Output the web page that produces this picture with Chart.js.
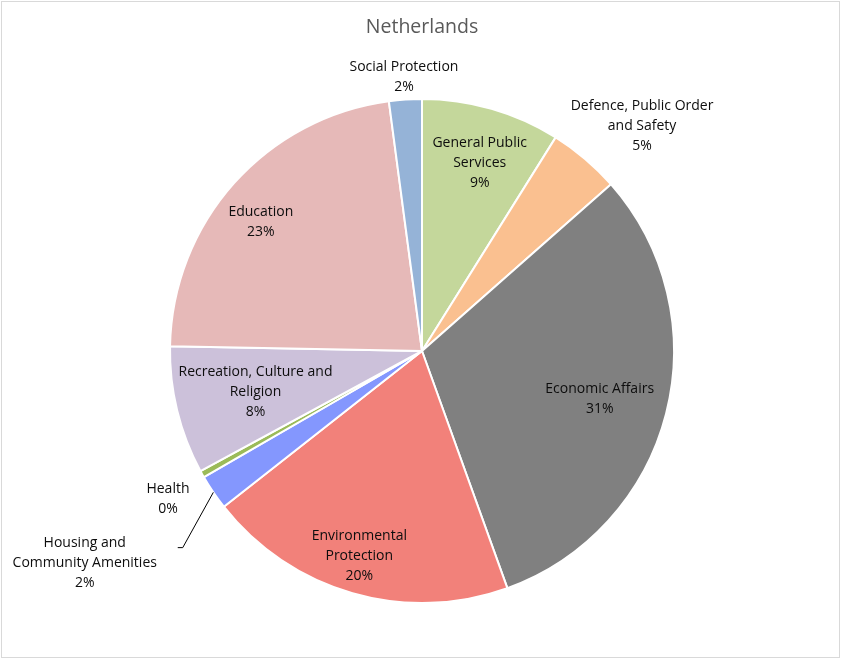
<!DOCTYPE html>
<html>
<head>
<meta charset="utf-8">
<title>Netherlands</title>
<script src="https://cdn.jsdelivr.net/npm/chart.js@4.4.1/dist/chart.umd.min.js"></script>
<style>
    html, body { margin: 0; padding: 0; background: #fff; }
    #wrap { position: relative; width: 841px; height: 659px; }
    #frame { position: absolute; left: 1px; top: 1px; width: 837px; height: 655px; border: 1px solid #d9d9d9; pointer-events: none; }
</style>
</head>
<body>
<div id="wrap">
    <canvas id="pieChart" width="841" height="659"></canvas>
    <div id="frame"></div>
</div>
<script>
// Netherlands - spending by function (share of total)

const categories = [
    'General Public Services',
    'Defence, Public Order and Safety',
    'Economic Affairs',
    'Environmental Protection',
    'Housing and Community Amenities',
    'Health',
    'Recreation, Culture and Religion',
    'Education',
    'Social Protection'
];

// how each category name is wrapped in its data label
const labelLines = [
    ['General Public', 'Services'],
    ['Defence, Public Order', 'and Safety'],
    ['Economic Affairs'],
    ['Environmental', 'Protection'],
    ['Housing and', 'Community Amenities'],
    ['Health'],
    ['Recreation, Culture and', 'Religion'],
    ['Education'],
    ['Social Protection']
];

// share in percent
const shares = [8.9, 4.6, 31.0, 19.9, 2.25, 0.45, 8.2, 22.6, 2.1];

const sliceColors = [
    '#C4D79B', '#FAC090', '#808080', '#F2817A', '#8497FE',
    '#9BBB59', '#CCC1DA', '#E6B9B8', '#95B3D7'
];

// label placement: radius factor and angle nudge (degrees)
const labelRadius = [0.782, 1.25, 0.73, 0.85, 1.58, 1.167, 0.68, 0.82, 1.088];
const labelNudge = [1, 4, 0.6, 1, 2, -1, 0, -3, 0];
const leaderFor = [4]; // slices whose label gets a leader line

const FONT = '"Open Sans", "Liberation Sans", sans-serif';

const pieLabels = {
    id: 'pieLabels',
    afterDatasetsDraw(chart) {
        const ctx = chart.ctx;
        const meta = chart.getDatasetMeta(0);
        const total = shares.reduce((a, b) => a + b, 0);
        ctx.save();
        ctx.font = '14px ' + FONT;
        ctx.fillStyle = '#0d0d0d';
        ctx.textAlign = 'center';
        ctx.textBaseline = 'middle';
        meta.data.forEach((arc, i) => {
            const p = arc.getProps(['x', 'y', 'startAngle', 'endAngle', 'outerRadius'], true);
            const mid = (p.startAngle + p.endAngle) / 2 + labelNudge[i] * Math.PI / 180;
            const r = p.outerRadius * labelRadius[i];
            const lx = p.x + Math.cos(mid) * r;
            const ly = p.y + Math.sin(mid) * r;
            const pct = Math.round(shares[i] / total * 100) + '%';
            const lines = labelLines[i].concat([pct]);
            const lh = 20;
            const top = ly - (lines.length - 1) * lh / 2;
            lines.forEach((t, k) => ctx.fillText(t, lx, top + k * lh));

            if (leaderFor.includes(i)) {
                const am = (p.startAngle + p.endAngle) / 2;
                const ex = p.x + Math.cos(am) * p.outerRadius;
                const ey = p.y + Math.sin(am) * p.outerRadius;
                ctx.strokeStyle = '#000';
                ctx.lineWidth = 1;
                ctx.beginPath();
                ctx.moveTo(ex, ey);
                ctx.lineTo(lx + 98, ly - 15);
                ctx.lineTo(lx + 93, ly - 15);
                ctx.stroke();
            }
        });
        ctx.restore();
    }
};

const ctx = document.getElementById('pieChart').getContext('2d');
const pieChart = new Chart(ctx, {
    type: 'pie',
    data: {
        labels: categories,
        datasets: [{
            data: shares,
            backgroundColor: sliceColors,
            borderColor: '#ffffff',
            borderWidth: 2
        }]
    },
    options: {
        responsive: false,
        animation: false,
        layout: {
            padding: { left: 169, right: 166, top: 0, bottom: 55 }
        },
        plugins: {
            legend: { display: false },
            tooltip: { enabled: false },
            title: {
                display: true,
                text: 'Netherlands',
                color: '#595959',
                font: { family: FONT, size: 19.5, weight: 'normal' },
                padding: { top: 16, bottom: 58.6 }
            }
        }
    },
    plugins: [pieLabels]
});
</script>
</body>
</html>
